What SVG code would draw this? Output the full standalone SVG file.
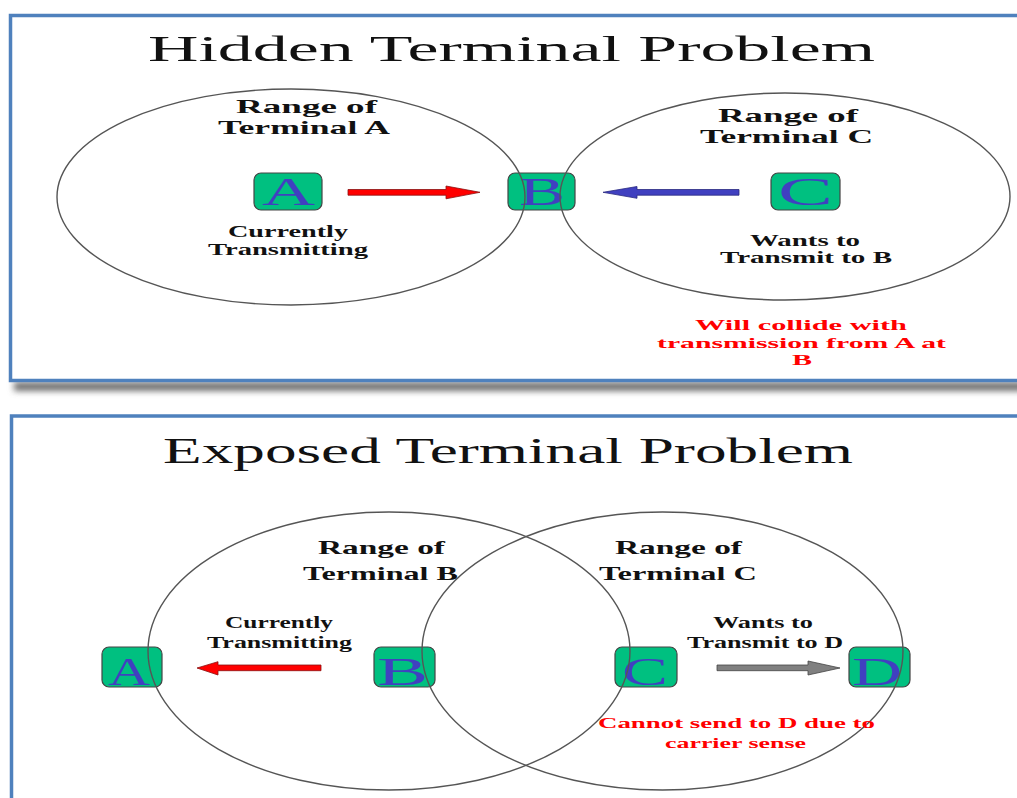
<svg xmlns="http://www.w3.org/2000/svg" width="1017" height="798" viewBox="0 0 1017 798">
  <defs>
    <filter id="soft" x="-5%" y="-100%" width="110%" height="300%">
      <feGaussianBlur stdDeviation="3"/>
    </filter>
    <style>
      .panel { fill: #ffffff; stroke: #4f81bd; stroke-width: 3.5; }
      .range { fill: none; stroke: #555555; stroke-width: 1.4; }
      .box { fill: #00c080; stroke: #444444; stroke-width: 1.2; }
      .letter { font-family: "Liberation Serif", "Times New Roman", serif; font-size: 40px; fill: #4040c0; }
      .title { font-family: "Liberation Serif", "Times New Roman", serif; font-size: 36px; fill: #111111; }
      .label { font-family: "Liberation Serif", "Times New Roman", serif; font-weight: bold; fill: #111111; }
      .big { font-size: 19px; }
      .small { font-size: 16px; }
      .warn { font-family: "Liberation Serif", "Times New Roman", serif; font-weight: bold; font-size: 15px; fill: #ff0000; }
    </style>
  </defs>

  <rect width="1017" height="798" fill="#ffffff"/>

  <!-- Hidden terminal panel -->
  <rect x="14" y="382" width="1010" height="9" fill="#707070" filter="url(#soft)"/>
  <rect class="panel" x="10.5" y="15.5" width="1015" height="365"/>
  <text class="title" x="148" y="61" textLength="727" lengthAdjust="spacingAndGlyphs">Hidden Terminal Problem</text>

  <g id="hidden-A">
    <rect class="box" x="254" y="173" width="68" height="37" rx="7"/>
    <text class="letter" x="262" y="205" textLength="53" lengthAdjust="spacingAndGlyphs">A</text>
  </g>
  <g id="hidden-B">
    <rect class="box" x="508" y="173" width="67" height="37" rx="7"/>
    <text class="letter" x="519" y="205" textLength="46" lengthAdjust="spacingAndGlyphs">B</text>
  </g>
  <g id="hidden-C">
    <rect class="box" x="771" y="173" width="69" height="37" rx="7"/>
    <text class="letter" x="778" y="205" textLength="55" lengthAdjust="spacingAndGlyphs">C</text>
  </g>

  <g id="hidden-ranges">
    <ellipse class="range" cx="291" cy="197" rx="234" ry="108"/>
    <ellipse class="range" cx="785" cy="196.5" rx="225" ry="103.5"/>
  </g>

  <g id="hidden-connectors">
    <polygon points="348,189.5 446,189.5 446,186 480,192.3 446,198.8 446,195.2 348,195.2" fill="#ff0000" stroke="#8a1010" stroke-width="0.8"/>
    <polygon points="739,189.5 637,189.5 637,186.5 603,192.3 637,198.3 637,195.2 739,195.2" fill="#4040c0" stroke="#2a2a80" stroke-width="0.8"/>
  </g>

  <g id="hidden-labels">
    <text class="label big" x="236" y="113" textLength="141" lengthAdjust="spacingAndGlyphs">Range of</text>
    <text class="label big" x="218" y="134" textLength="172" lengthAdjust="spacingAndGlyphs">Terminal A</text>
    <text class="label small" x="228" y="237" textLength="120" lengthAdjust="spacingAndGlyphs">Currently</text>
    <text class="label small" x="208" y="255" textLength="160" lengthAdjust="spacingAndGlyphs">Transmitting</text>
    <text class="label big" x="718" y="122" textLength="140" lengthAdjust="spacingAndGlyphs">Range of</text>
    <text class="label big" x="700" y="143" textLength="173" lengthAdjust="spacingAndGlyphs">Terminal C</text>
    <text class="label small" x="750" y="246" textLength="110" lengthAdjust="spacingAndGlyphs">Wants to</text>
    <text class="label small" x="720" y="263" textLength="172" lengthAdjust="spacingAndGlyphs">Transmit to B</text>
    <text class="warn" x="695" y="330" textLength="212" lengthAdjust="spacingAndGlyphs">Will collide with</text>
    <text class="warn" x="657" y="348" textLength="289" lengthAdjust="spacingAndGlyphs">transmission from A at</text>
    <text class="warn" x="792" y="365" textLength="20" lengthAdjust="spacingAndGlyphs">B</text>
  </g>

  <!-- Exposed terminal panel -->
  <rect class="panel" x="11.5" y="416" width="1015" height="400"/>
  <text class="title" x="163" y="463" font-size="37" textLength="690" lengthAdjust="spacingAndGlyphs">Exposed Terminal Problem</text>

  <g id="exposed-A">
    <rect class="box" x="102" y="647" width="60" height="40" rx="7"/>
    <text class="letter" x="108" y="685" font-size="44" textLength="42" lengthAdjust="spacingAndGlyphs">A</text>
  </g>
  <g id="exposed-B">
    <rect class="box" x="374" y="647" width="61" height="40" rx="7"/>
    <text class="letter" x="377" y="685" font-size="44" textLength="51" lengthAdjust="spacingAndGlyphs">B</text>
  </g>
  <g id="exposed-C">
    <rect class="box" x="615" y="647" width="62" height="40" rx="7"/>
    <text class="letter" x="622" y="685" font-size="44" textLength="46" lengthAdjust="spacingAndGlyphs">C</text>
  </g>
  <g id="exposed-D">
    <rect class="box" x="849" y="647" width="61" height="40" rx="7"/>
    <text class="letter" x="852" y="685" font-size="44" textLength="50" lengthAdjust="spacingAndGlyphs">D</text>
  </g>

  <g id="exposed-ranges">
    <ellipse class="range" cx="389" cy="651" rx="241" ry="139"/>
    <ellipse class="range" cx="662.5" cy="651" rx="240.5" ry="139"/>
  </g>

  <g id="exposed-connectors">
    <polygon points="321,665 218,665 218,661.7 197,668 218,675 218,670.7 321,670.7" fill="#ff0000" stroke="#8a1010" stroke-width="0.8"/>
    <polygon points="717,665 808,665 808,661 840,668 808,675 808,670.7 717,670.7" fill="#808080" stroke="#444444" stroke-width="0.8"/>
  </g>

  <g id="exposed-labels">
    <text class="label big" x="318" y="554" textLength="127" lengthAdjust="spacingAndGlyphs">Range of</text>
    <text class="label big" x="303" y="580" textLength="155" lengthAdjust="spacingAndGlyphs">Terminal B</text>
    <text class="label small" x="225" y="628" textLength="108" lengthAdjust="spacingAndGlyphs">Currently</text>
    <text class="label small" x="207" y="648" textLength="145" lengthAdjust="spacingAndGlyphs">Transmitting</text>
    <text class="label big" x="615" y="554" textLength="127" lengthAdjust="spacingAndGlyphs">Range of</text>
    <text class="label big" x="599" y="580" textLength="158" lengthAdjust="spacingAndGlyphs">Terminal C</text>
    <text class="label small" x="713" y="628" textLength="100" lengthAdjust="spacingAndGlyphs">Wants to</text>
    <text class="label small" x="687" y="648" textLength="156" lengthAdjust="spacingAndGlyphs">Transmit to D</text>
    <text class="warn" x="598" y="728" textLength="277" lengthAdjust="spacingAndGlyphs">Cannot send to D due to</text>
    <text class="warn" x="665" y="748" textLength="141" lengthAdjust="spacingAndGlyphs">carrier sense</text>
  </g>
</svg>
